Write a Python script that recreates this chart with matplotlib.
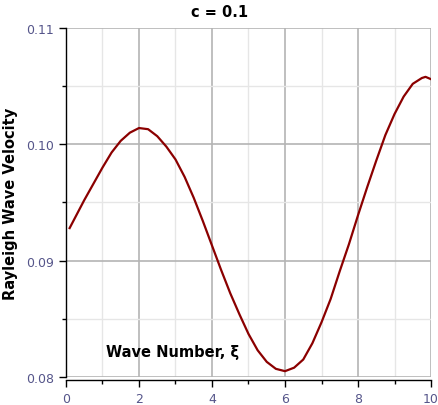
import numpy as np
import matplotlib
matplotlib.use("Agg")
import matplotlib.pyplot as plt
from matplotlib.ticker import MultipleLocator, FormatStrFormatter

# values
waveNumber = [0.1, 0.25, 0.5, 0.75, 1.0, 1.25, 1.5, 1.75, 2.0, 2.25, 2.5, 2.75,
              3.0, 3.25, 3.5, 3.75, 4.0, 4.25, 4.5, 4.75, 5.0, 5.25, 5.5, 5.75,
              6.0, 6.25, 6.5, 6.75, 7.0, 7.25, 7.5, 7.75, 8.0, 8.25, 8.5, 8.75,
              9.0, 9.25, 9.5, 9.75, 9.85, 10.0]
velocity = [0.0928, 0.0937, 0.0952, 0.0966, 0.0980, 0.0993, 0.1003, 0.1010, 0.1014,
            0.1013, 0.1007, 0.0998, 0.0987, 0.0972, 0.0954, 0.0934, 0.0913, 0.0892,
            0.0872, 0.0854, 0.0837, 0.0823, 0.0813, 0.0807, 0.0805, 0.0808, 0.0815,
            0.0829, 0.0847, 0.0867, 0.0891, 0.0914, 0.0939, 0.0963, 0.0986, 0.1008,
            0.1026, 0.1041, 0.1052, 0.1057, 0.1058, 0.1056]

tickColor = '#55558a'

fig = plt.figure(figsize=(4.39, 4.06), dpi=100)
ax = fig.add_axes([0.1503, 0.0690, 0.8315, 0.8596])

ax.plot(waveNumber, velocity, color='#8b0000', linewidth=1.6, zorder=3)

ax.set_xlim(0, 10)
ax.set_ylim(0.08, 0.11)
ax.xaxis.set_major_locator(MultipleLocator(2))
ax.xaxis.set_minor_locator(MultipleLocator(1))
ax.yaxis.set_major_locator(MultipleLocator(0.01))
ax.yaxis.set_minor_locator(MultipleLocator(0.005))
ax.yaxis.set_major_formatter(FormatStrFormatter('%.2f'))

ax.grid(True, which='major', color='#b4b4b4', linewidth=1.2, zorder=0)
ax.grid(True, which='minor', color='#e6e6e6', linewidth=1.0, zorder=0)

for side in ['top', 'right']:
    ax.spines[side].set_visible(False)
ax.spines['left'].set_color('black')
ax.spines['left'].set_linewidth(1.0)
ax.spines['bottom'].set_color('black')
ax.spines['bottom'].set_linewidth(1.0)
ax.spines['bottom'].set_position(('outward', 2))

ax.tick_params(which='major', direction='out', length=5, width=1, color='black',
               labelcolor=tickColor, labelsize=9)
ax.tick_params(which='minor', direction='out', length=3, width=1, color='black')

ax.text(0.11, 0.074, 'Wave Number, ξ', transform=ax.transAxes, fontsize=10.5,
        fontweight='bold', ha='left', va='center', color='black')
ax.set_ylabel('Rayleigh Wave Velocity', fontsize=10.5, fontweight='bold', labelpad=6)
fig.text(0.5, 0.97, 'c = 0.1', ha='center', va='center', fontsize=10.5, fontweight='bold')

fig.savefig('out.png', dpi=100)
